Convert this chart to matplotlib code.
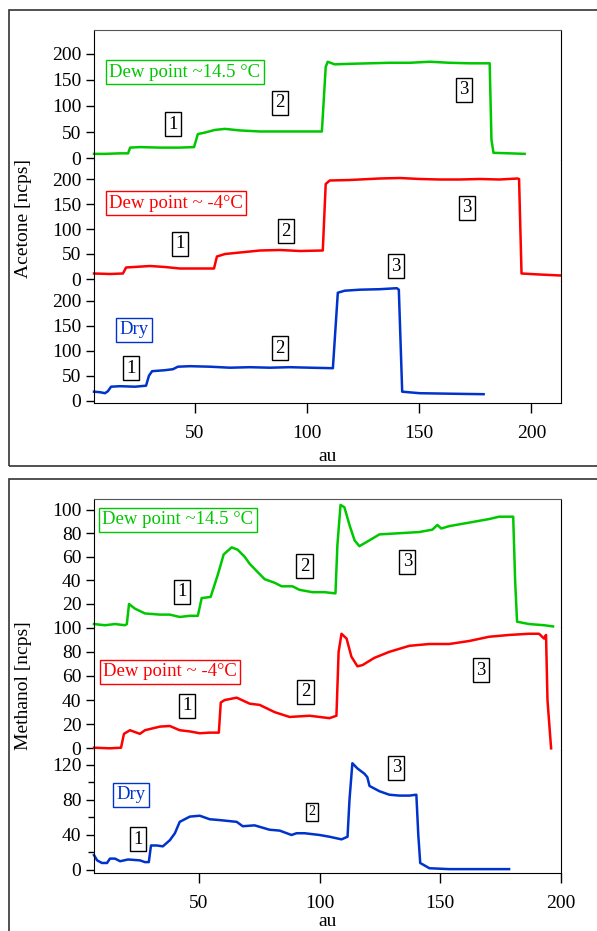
import matplotlib.pyplot as plt
from matplotlib.patches import Rectangle

plt.rcParams['font.family'] = ['Liberation Serif', 'DejaVu Serif']

W, H = 597, 931

# ---------------- acetone (ncps vs au) ----------------
ace_wet_x = [5.0, 9.9, 16.6, 20.2, 21.1, 25.5, 34.4, 43.3, 49.6, 51.3, 54.5, 58.9, 63.4, 70.1,
             79.0, 87.9, 96.8, 106.6, 108.3, 109.2, 112.3, 119.0, 127.9, 136.8, 145.7, 154.7,
             163.6, 172.5, 181.4, 182.2, 183.1, 190.3, 197.0]
ace_wet_y = [8, 8, 9, 9, 20, 21, 20, 20, 21, 46, 49, 54, 56, 53,
             51, 51, 51, 51, 175, 185, 180, 181, 182, 183, 183, 185,
             183, 182, 182, 35, 10, 9, 8]

ace_mid_x = [5.0, 12.2, 17.9, 19.3, 30.0, 36.6, 43.3, 52.2, 58.5, 59.8, 63.4, 70.1, 79.0,
             87.9, 96.8, 107.0, 108.3, 110.1, 119.0, 132.4, 141.3, 150.3, 159.2, 168.1,
             177.0, 185.8, 193.8, 194.5, 195.6, 203.6, 213.0]
ace_mid_y = [11, 10, 11, 23, 26, 24, 21, 21, 21, 45, 50, 53, 57,
             58, 56, 57, 190, 197, 198, 201, 202, 200, 199, 199,
             200, 199, 201, 200, 11, 9, 7]

ace_dry_x = [5.0, 7.7, 9.9, 11.2, 12.6, 16.6, 23.3, 28.2, 29.5, 30.9, 36.6, 40.2, 42.4, 47.8,
             56.7, 65.6, 74.5, 83.4, 92.3, 101.3, 111.5, 113.7, 116.8, 123.5, 132.4, 140.0,
             140.9, 142.4, 150.2, 163.6, 178.7]
ace_dry_y = [18, 17, 15, 19, 28, 29, 28, 30, 50, 59, 61, 63, 68, 69,
             68, 66, 67, 66, 67, 66, 65, 216, 220, 222, 223, 225,
             222, 18, 15, 14, 13]

# ---------------- methanol (ncps vs au) ----------------
met_wet_x = [6.6, 11.2, 15.3, 19.4, 20.2, 21.1, 23.6, 27.7, 33.9, 38.0, 42.1, 46.3, 49.6, 51.2,
             54.9, 57.9, 60.3, 63.6, 66.1, 69.0, 71.1, 74.4, 77.3, 81.4, 84.3, 88.8, 91.7, 97.1,
             102.1, 106.6, 107.4, 108.7, 110.3, 112.4, 114.5, 116.5, 120.7, 124.8, 133.1, 141.3,
             146.7, 148.8, 150.4, 153.7, 162.0, 170.2, 174.4, 180.2, 181.0, 181.8, 186.8, 193.0,
             196.7]
met_wet_y = [3, 2, 3, 2, 3, 20, 16, 12, 11, 11, 9, 10, 10, 25,
             26, 45, 62, 68, 66, 60, 54, 47, 41, 38, 35, 35, 32, 30,
             30, 29, 70, 104, 102, 87, 74, 69, 74, 79, 80, 81,
             83, 87, 84, 86, 89, 92, 94, 94, 40, 5, 3, 2,
             1]

met_mid_x = [6.6, 13.2, 17.8, 19.0, 21.5, 25.6, 27.7, 33.9, 38.0, 42.1, 46.3, 50.4, 54.5, 58.3,
             59.1, 60.7, 65.7, 71.1, 75.2, 81.4, 87.6, 95.9, 104.1, 107.0, 107.9, 109.1, 111.2,
             113.2, 115.7, 117.8, 122.7, 128.9, 137.2, 145.5, 153.7, 162.0, 170.2, 178.5, 186.8,
             190.9, 193.0, 193.8, 194.4, 195.9]
met_mid_y = [0.5, 0, 0.5, 12, 15, 12, 15, 18, 18.5, 15, 14, 12.5, 13, 13,
             38, 40, 42, 37, 36, 30, 26, 27, 25, 27, 80, 95, 91,
             76, 68, 69, 75, 80, 85, 86.5, 86.5, 89, 92.5, 94, 95,
             95, 91, 94, 40, 0]

met_dry_x = [6.6, 7.9, 9.9, 12.0, 13.2, 15.3, 17.4, 20.7, 25.6, 27.7, 29.3, 30.2, 32.6, 35.1,
             38.0, 40.1, 42.1, 46.3, 50.4, 54.5, 58.7, 65.7, 68.2, 73.1, 79.3, 83.5, 88.4, 90.5,
             93.8, 100.0, 104.1, 109.1, 111.6, 112.4, 113.6, 115.7, 118.6, 119.8, 120.7, 124.8,
             128.9, 133.1, 137.2, 140.1, 140.9, 141.7, 145.5, 153.7, 166.1, 178.5]
met_dry_y = [17, 11, 8, 8, 13, 13, 10, 12, 11, 9, 9, 28, 28, 27,
             34, 42, 55, 61, 62, 58, 57, 55, 50, 51, 46, 45, 40, 42,
             42, 40, 38, 35, 38, 80, 122, 116, 110, 106, 96, 90,
             86, 85, 85, 86, 40, 8, 2, 1, 1, 1]

green, red, blue = '#00c800', '#ff0000', '#0033cc'

fig = plt.figure(figsize=(W / 100, H / 100), dpi=100)

# outer frames
fig.patches.append(Rectangle((9 / W, 1 - 466 / H), 600 / W, 456 / H, transform=fig.transFigure,
                             fill=False, ec='#333333', lw=1.2))
fig.patches.append(Rectangle((9 / W, 1 - 940 / H), 600 / W, 461 / H, transform=fig.transFigure,
                             fill=False, ec='#333333', lw=1.2))


def add_ax(top, bottom, left=94, right=561):
    return fig.add_axes([left / W, 1 - bottom / H, (right - left) / W, (bottom - top) / H])


def style(ax, ylim, yticks, xlim, xticks, bottom_axis, top_axis=False):
    ax.patch.set_visible(False)
    ax.set_xlim(*xlim)
    ax.set_ylim(*ylim)
    ax.set_yticks(yticks)
    ax.spines['top'].set_visible(top_axis)
    ax.spines['top'].set_color('#555555')
    ax.spines['bottom'].set_visible(bottom_axis)
    ax.tick_params(axis='y', direction='out', length=6, width=1, labelsize=14, pad=3)
    if bottom_axis:
        ax.set_xticks(xticks)
        ax.tick_params(axis='x', direction='out', length=7, width=1, labelsize=14, pad=9)
    else:
        ax.tick_params(axis='x', bottom=False, labelbottom=False)


def label(ax, txt, x, y, color, size=13.5):
    ax.text(x, y, txt, color=color, fontsize=size, ha='center', va='center',
            bbox=dict(boxstyle='square,pad=0.18', fc='white', ec=color, lw=1))


# ---------------- acetone panel ----------------
ace_xlim = (5, 213.2)
ax1 = add_ax(30, 160)
ax2 = add_ax(160, 281)
ax3 = add_ax(281, 403)
style(ax1, (-3.8, 246), [0, 50, 100, 150, 200], ace_xlim, None, False, True)
style(ax2, (-4, 238), [0, 50, 100, 150, 200], ace_xlim, None, False)
style(ax3, (-4.6, 239.4), [0, 50, 100, 150, 200], ace_xlim, [50, 100, 150, 200], True)
ax1.plot(ace_wet_x, ace_wet_y, color=green, lw=1.8, clip_on=False)
ax2.plot(ace_mid_x, ace_mid_y, color=red, lw=1.8, clip_on=False)
ax3.plot(ace_dry_x, ace_dry_y, color=blue, lw=1.8, clip_on=False)
ax3.set_xlabel('au', fontsize=14, labelpad=4)

label(ax1, 'Dew point ~14.5 °C', 45.5, 165, green)
label(ax1, '1', 40.2, 65, 'black')
label(ax1, '2', 87.9, 106, 'black')
label(ax1, '3', 169.8, 131, 'black')
label(ax2, 'Dew point ~ -4°C', 41.5, 152, red)
label(ax2, '1', 43.3, 70, 'black')
label(ax2, '2', 90.5, 96, 'black')
label(ax2, '3', 171.1, 142, 'black')
label(ax3, 'Dry', 22.8, 142, blue)
label(ax3, '1', 21.5, 65, 'black')
label(ax3, '2', 87.9, 105, 'black')
label(ax3, '3', 139.5, 269, 'black')

fig.text(24 / W, 1 - 218 / H, 'Acetone [ncps]', rotation=90, fontsize=14, ha='center', va='center')

# ---------------- methanol panel ----------------
met_xlim = (6.6, 200)
bx1 = add_ax(499, 627)
bx2 = add_ax(627, 750)
bx3 = add_ax(750, 872.7)
style(bx1, (0.5, 109), [20, 40, 60, 80, 100], met_xlim, None, False, True)
style(bx2, (-1.4, 100.6), [0, 20, 40, 60, 80, 100], met_xlim, None, False)
style(bx3, (-3.1, 137.1), [0, 40, 80, 120], met_xlim, [50, 100, 150, 200], True)
bx3.set_yticks([20, 60, 100], minor=True)
bx3.tick_params(axis='y', which='minor', direction='out', length=4, width=1)
bx1.plot(met_wet_x, met_wet_y, color=green, lw=1.8, clip_on=False)
bx2.plot(met_mid_x, met_mid_y, color=red, lw=1.8, clip_on=False)
bx3.plot(met_dry_x, met_dry_y, color=blue, lw=1.8, clip_on=False)
bx3.set_xlabel('au', fontsize=14, labelpad=1)

label(bx1, 'Dew point ~14.5 °C', 41.3, 91.2, green)
label(bx1, '1', 43.0, 30.2, 'black')
label(bx1, '2', 93.8, 52.2, 'black')
label(bx1, '3', 136.4, 55.6, 'black')
label(bx2, 'Dew point ~ -4°C', 38.0, 63.3, red)
label(bx2, '1', 45.0, 35.1, 'black')
label(bx2, '2', 94.2, 46.7, 'black')
label(bx2, '3', 166.9, 64.9, 'black')
label(bx3, 'Dry', 21.9, 85.7, blue)
label(bx3, '1', 24.8, 35.4, 'black')
label(bx3, '2', 96.7, 66.3, 'black', size=10)
label(bx3, '3', 131.8, 116.6, 'black')

fig.text(24 / W, 1 - 686 / H, 'Methanol [ncps]', rotation=90, fontsize=14, ha='center', va='center')

fig.savefig('out.png', dpi=100)
